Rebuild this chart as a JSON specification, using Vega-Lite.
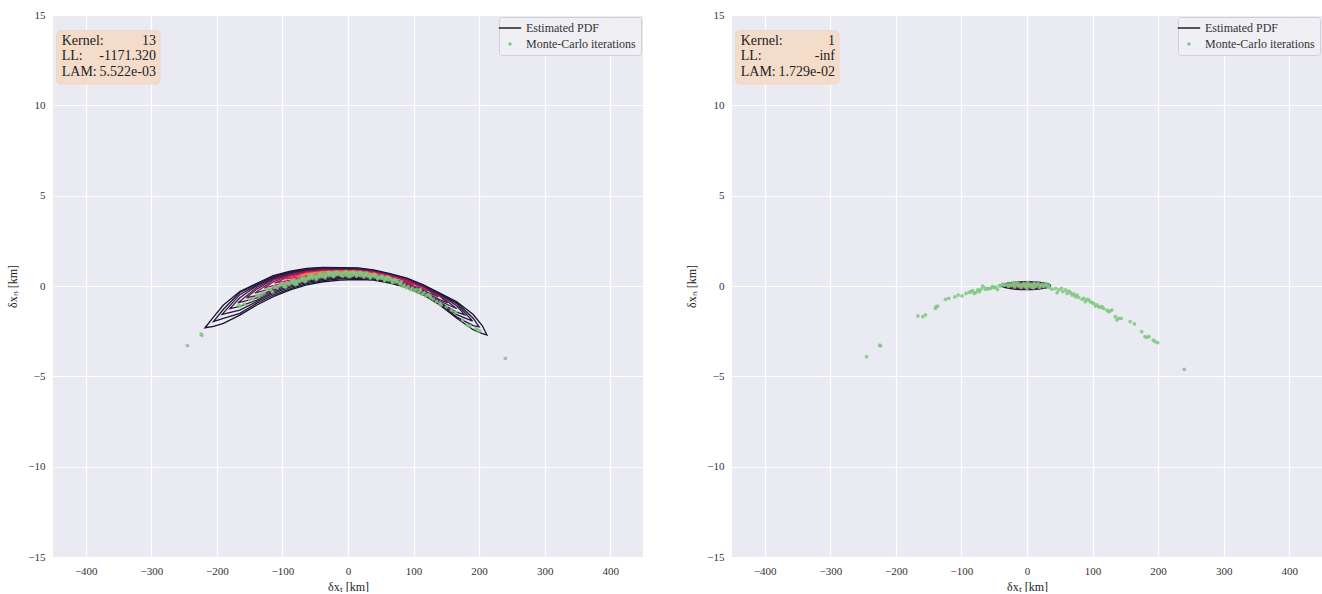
{
"$schema": "https://vega.github.io/schema/vega-lite/v6.json",
"padding": {"left": 6, "top": 9, "right": 0, "bottom": 0},
"background": "#ffffff",
"spacing": 42,
"datasets": {
"cl": [
{"l":0,"x":-218,"y":-2.31},{"l":0,"x":-205,"y":-1.71},{"l":0,"x":-190,"y":-1.05},{"l":0,"x":-165,"y":-0.31},{"l":0,"x":-139,"y":0.15},{"l":0,"x":-114,"y":0.57},{"l":0,"x":-88,"y":0.82},{"l":0,"x":-63,"y":0.98},{"l":0,"x":-38,"y":1.035},{"l":0,"x":-12,"y":1.02},{"l":0,"x":15,"y":1.0},{"l":0,"x":39,"y":0.89},{"l":0,"x":64,"y":0.68},{"l":0,"x":90,"y":0.43},{"l":0,"x":115,"y":0.06},{"l":0,"x":140,"y":-0.39},{"l":0,"x":166,"y":-0.87},{"l":0,"x":191,"y":-1.58},{"l":0,"x":205,"y":-2.2},{"l":0,"x":212,"y":-2.71},
{"l":0,"x":205,"y":-2.64},{"l":0,"x":191,"y":-2.42},{"l":0,"x":166,"y":-1.79},{"l":0,"x":140,"y":-1.05},{"l":0,"x":115,"y":-0.5},{"l":0,"x":90,"y":-0.09},{"l":0,"x":64,"y":0.16},{"l":0,"x":39,"y":0.33},{"l":0,"x":15,"y":0.36},{"l":0,"x":-12,"y":0.33},{"l":0,"x":-38,"y":0.235},{"l":0,"x":-63,"y":0.06},{"l":0,"x":-88,"y":-0.22},{"l":0,"x":-114,"y":-0.59},{"l":0,"x":-139,"y":-1.05},{"l":0,"x":-165,"y":-1.61},{"l":0,"x":-190,"y":-2.07},{"l":0,"x":-205,"y":-2.23},
{"l":1,"x":-205,"y":-1.96},{"l":1,"x":-190,"y":-1.29},{"l":1,"x":-165,"y":-0.36},{"l":1,"x":-139,"y":0.1},{"l":1,"x":-114,"y":0.52},{"l":1,"x":-88,"y":0.78},{"l":1,"x":-63,"y":0.94},{"l":1,"x":-38,"y":1.0},{"l":1,"x":-12,"y":0.99},{"l":1,"x":15,"y":0.975},{"l":1,"x":39,"y":0.87},{"l":1,"x":64,"y":0.66},{"l":1,"x":90,"y":0.41},{"l":1,"x":115,"y":0.04},{"l":1,"x":140,"y":-0.42},{"l":1,"x":166,"y":-0.91},{"l":1,"x":191,"y":-1.78},{"l":1,"x":200,"y":-2.26},
{"l":1,"x":191,"y":-2.19},{"l":1,"x":166,"y":-1.72},{"l":1,"x":140,"y":-1.0},{"l":1,"x":115,"y":-0.45},{"l":1,"x":90,"y":-0.05},{"l":1,"x":64,"y":0.2},{"l":1,"x":39,"y":0.38},{"l":1,"x":15,"y":0.41},{"l":1,"x":-12,"y":0.39},{"l":1,"x":-38,"y":0.3},{"l":1,"x":-63,"y":0.13},{"l":1,"x":-88,"y":-0.14},{"l":1,"x":-114,"y":-0.5},{"l":1,"x":-139,"y":-0.95},{"l":1,"x":-165,"y":-1.51},{"l":1,"x":-190,"y":-1.79},
{"l":2,"x":-192,"y":-1.57},{"l":2,"x":-165,"y":-0.48},{"l":2,"x":-139,"y":0.06},{"l":2,"x":-114,"y":0.48},{"l":2,"x":-88,"y":0.74},{"l":2,"x":-63,"y":0.91},{"l":2,"x":-38,"y":0.975},{"l":2,"x":-12,"y":0.97},{"l":2,"x":15,"y":0.95},{"l":2,"x":39,"y":0.85},{"l":2,"x":64,"y":0.64},{"l":2,"x":90,"y":0.39},{"l":2,"x":115,"y":0.02},{"l":2,"x":140,"y":-0.44},{"l":2,"x":166,"y":-0.99},{"l":2,"x":190,"y":-1.94},
{"l":2,"x":166,"y":-1.59},{"l":2,"x":140,"y":-0.95},{"l":2,"x":115,"y":-0.41},{"l":2,"x":90,"y":-0.01},{"l":2,"x":64,"y":0.24},{"l":2,"x":39,"y":0.42},{"l":2,"x":15,"y":0.46},{"l":2,"x":-12,"y":0.44},{"l":2,"x":-38,"y":0.36},{"l":2,"x":-63,"y":0.2},{"l":2,"x":-88,"y":-0.06},{"l":2,"x":-114,"y":-0.41},{"l":2,"x":-139,"y":-0.86},{"l":2,"x":-165,"y":-1.33},
{"l":3,"x":-180,"y":-1.25},{"l":3,"x":-165,"y":-0.65},{"l":3,"x":-139,"y":0.02},{"l":3,"x":-114,"y":0.45},{"l":3,"x":-88,"y":0.71},{"l":3,"x":-63,"y":0.88},{"l":3,"x":-38,"y":0.95},{"l":3,"x":-12,"y":0.95},{"l":3,"x":15,"y":0.93},{"l":3,"x":39,"y":0.83},{"l":3,"x":64,"y":0.62},{"l":3,"x":90,"y":0.37},{"l":3,"x":115,"y":0.0},{"l":3,"x":140,"y":-0.46},{"l":3,"x":166,"y":-1.11},{"l":3,"x":178,"y":-1.6},
{"l":3,"x":166,"y":-1.45},{"l":3,"x":140,"y":-0.9},{"l":3,"x":115,"y":-0.38},{"l":3,"x":90,"y":0.03},{"l":3,"x":64,"y":0.28},{"l":3,"x":39,"y":0.45},{"l":3,"x":15,"y":0.5},{"l":3,"x":-12,"y":0.48},{"l":3,"x":-38,"y":0.41},{"l":3,"x":-63,"y":0.27},{"l":3,"x":-88,"y":0.01},{"l":3,"x":-114,"y":-0.33},{"l":3,"x":-139,"y":-0.78},{"l":3,"x":-165,"y":-1.13},
{"l":4,"x":-168,"y":-0.94},{"l":4,"x":-139,"y":-0.07},{"l":4,"x":-114,"y":0.41},{"l":4,"x":-88,"y":0.68},{"l":4,"x":-63,"y":0.855},{"l":4,"x":-38,"y":0.93},{"l":4,"x":-12,"y":0.93},{"l":4,"x":15,"y":0.91},{"l":4,"x":39,"y":0.81},{"l":4,"x":64,"y":0.61},{"l":4,"x":90,"y":0.36},{"l":4,"x":115,"y":-0.02},{"l":4,"x":140,"y":-0.51},{"l":4,"x":166,"y":-1.26},
{"l":4,"x":140,"y":-0.83},{"l":4,"x":115,"y":-0.34},{"l":4,"x":90,"y":0.06},{"l":4,"x":64,"y":0.31},{"l":4,"x":39,"y":0.49},{"l":4,"x":15,"y":0.54},{"l":4,"x":-12,"y":0.53},{"l":4,"x":-38,"y":0.46},{"l":4,"x":-63,"y":0.32},{"l":4,"x":-88,"y":0.07},{"l":4,"x":-114,"y":-0.26},{"l":4,"x":-139,"y":-0.66},
{"l":5,"x":-155,"y":-0.65},{"l":5,"x":-139,"y":-0.17},{"l":5,"x":-114,"y":0.38},{"l":5,"x":-88,"y":0.65},{"l":5,"x":-63,"y":0.83},{"l":5,"x":-38,"y":0.905},{"l":5,"x":-12,"y":0.91},{"l":5,"x":15,"y":0.9},{"l":5,"x":39,"y":0.8},{"l":5,"x":64,"y":0.6},{"l":5,"x":90,"y":0.35},{"l":5,"x":115,"y":-0.03},{"l":5,"x":140,"y":-0.57},{"l":5,"x":152,"y":-0.93},
{"l":5,"x":140,"y":-0.75},{"l":5,"x":115,"y":-0.31},{"l":5,"x":90,"y":0.09},{"l":5,"x":64,"y":0.34},{"l":5,"x":39,"y":0.52},{"l":5,"x":15,"y":0.58},{"l":5,"x":-12,"y":0.56},{"l":5,"x":-38,"y":0.505},{"l":5,"x":-63,"y":0.37},{"l":5,"x":-88,"y":0.13},{"l":5,"x":-114,"y":-0.2},{"l":5,"x":-139,"y":-0.53},
{"l":6,"x":-142,"y":-0.39},{"l":6,"x":-114,"y":0.32},{"l":6,"x":-88,"y":0.62},{"l":6,"x":-63,"y":0.81},{"l":6,"x":-38,"y":0.88},{"l":6,"x":-12,"y":0.89},{"l":6,"x":15,"y":0.88},{"l":6,"x":39,"y":0.785},{"l":6,"x":64,"y":0.58},{"l":6,"x":90,"y":0.33},{"l":6,"x":115,"y":-0.06},{"l":6,"x":138,"y":-0.61},
{"l":6,"x":115,"y":-0.26},{"l":6,"x":90,"y":0.11},{"l":6,"x":64,"y":0.36},{"l":6,"x":39,"y":0.55},{"l":6,"x":15,"y":0.61},{"l":6,"x":-12,"y":0.6},{"l":6,"x":-38,"y":0.55},{"l":6,"x":-63,"y":0.42},{"l":6,"x":-88,"y":0.19},{"l":6,"x":-114,"y":-0.1},
{"l":7,"x":-128,"y":-0.12},{"l":7,"x":-114,"y":0.23},{"l":7,"x":-88,"y":0.6},{"l":7,"x":-63,"y":0.78},{"l":7,"x":-38,"y":0.86},{"l":7,"x":-12,"y":0.87},{"l":7,"x":15,"y":0.86},{"l":7,"x":39,"y":0.77},{"l":7,"x":64,"y":0.57},{"l":7,"x":90,"y":0.32},{"l":7,"x":122,"y":-0.29},
{"l":7,"x":90,"y":0.14},{"l":7,"x":64,"y":0.39},{"l":7,"x":39,"y":0.58},{"l":7,"x":15,"y":0.645},{"l":7,"x":-12,"y":0.64},{"l":7,"x":-38,"y":0.59},{"l":7,"x":-63,"y":0.47},{"l":7,"x":-88,"y":0.24},{"l":7,"x":-114,"y":0.02},
{"l":8,"x":-112,"y":0.16},{"l":8,"x":-88,"y":0.55},{"l":8,"x":-63,"y":0.76},{"l":8,"x":-38,"y":0.84},{"l":8,"x":-12,"y":0.855},{"l":8,"x":15,"y":0.846},{"l":8,"x":39,"y":0.756},{"l":8,"x":64,"y":0.555},{"l":8,"x":90,"y":0.274},{"l":8,"x":100,"y":0.08},
{"l":8,"x":90,"y":0.2},{"l":8,"x":64,"y":0.42},{"l":8,"x":39,"y":0.61},{"l":8,"x":15,"y":0.68},{"l":8,"x":-12,"y":0.675},{"l":8,"x":-38,"y":0.635},{"l":8,"x":-63,"y":0.52},{"l":8,"x":-88,"y":0.32},
{"l":9,"x":-95,"y":0.375},{"l":9,"x":-63,"y":0.735},{"l":9,"x":-38,"y":0.82},{"l":9,"x":-12,"y":0.836},{"l":9,"x":15,"y":0.83},{"l":9,"x":39,"y":0.74},{"l":9,"x":64,"y":0.52},{"l":9,"x":75,"y":0.385},
{"l":9,"x":64,"y":0.47},{"l":9,"x":39,"y":0.64},{"l":9,"x":15,"y":0.714},{"l":9,"x":-12,"y":0.71},{"l":9,"x":-38,"y":0.68},{"l":9,"x":-63,"y":0.57},
{"l":10,"x":-75,"y":0.564},{"l":10,"x":-63,"y":0.69},{"l":10,"x":-38,"y":0.8},{"l":10,"x":-12,"y":0.82},{"l":10,"x":15,"y":0.81},{"l":10,"x":45,"y":0.647},
{"l":10,"x":15,"y":0.75},{"l":10,"x":-12,"y":0.75},{"l":10,"x":-38,"y":0.72},{"l":10,"x":-63,"y":0.64}
],
"cr": [
{"l":0,"x":36,"y":0.02},{"l":0,"x":31,"y":0.13},{"l":0,"x":17.5,"y":0.21},{"l":0,"x":-1,"y":0.24},{"l":0,"x":-19.5,"y":0.21},{"l":0,"x":-33,"y":0.13},{"l":0,"x":-38,"y":0.02},{"l":0,"x":-33,"y":-0.09},{"l":0,"x":-19.5,"y":-0.17},{"l":0,"x":-1,"y":-0.2},{"l":0,"x":17.5,"y":-0.17},{"l":0,"x":31,"y":-0.09},
{"l":4,"x":33,"y":0.02},{"l":4,"x":28.6,"y":0.115},{"l":4,"x":16.5,"y":0.185},{"l":4,"x":0,"y":0.21},{"l":4,"x":-16.5,"y":0.185},{"l":4,"x":-28.6,"y":0.115},{"l":4,"x":-33,"y":0.02},{"l":4,"x":-28.6,"y":-0.075},{"l":4,"x":-16.5,"y":-0.145},{"l":4,"x":0,"y":-0.17},{"l":4,"x":16.5,"y":-0.145},{"l":4,"x":28.6,"y":-0.075},
{"l":6,"x":28,"y":0.02},{"l":6,"x":24.2,"y":0.1},{"l":6,"x":14,"y":0.16},{"l":6,"x":0,"y":0.18},{"l":6,"x":-14,"y":0.16},{"l":6,"x":-24.2,"y":0.1},{"l":6,"x":-28,"y":0.02},{"l":6,"x":-24.2,"y":-0.06},{"l":6,"x":-14,"y":-0.12},{"l":6,"x":0,"y":-0.14},{"l":6,"x":14,"y":-0.12},{"l":6,"x":24.2,"y":-0.06},
{"l":7,"x":23,"y":0.02},{"l":7,"x":19.9,"y":0.085},{"l":7,"x":11.5,"y":0.13},{"l":7,"x":0,"y":0.15},{"l":7,"x":-11.5,"y":0.13},{"l":7,"x":-19.9,"y":0.085},{"l":7,"x":-23,"y":0.02},{"l":7,"x":-19.9,"y":-0.045},{"l":7,"x":-11.5,"y":-0.09},{"l":7,"x":0,"y":-0.11},{"l":7,"x":11.5,"y":-0.09},{"l":7,"x":19.9,"y":-0.045},
{"l":8,"x":18,"y":0.02},{"l":8,"x":15.6,"y":0.07},{"l":8,"x":9,"y":0.107},{"l":8,"x":0,"y":0.12},{"l":8,"x":-9,"y":0.107},{"l":8,"x":-15.6,"y":0.07},{"l":8,"x":-18,"y":0.02},{"l":8,"x":-15.6,"y":-0.03},{"l":8,"x":-9,"y":-0.067},{"l":8,"x":0,"y":-0.08},{"l":8,"x":9,"y":-0.067},{"l":8,"x":15.6,"y":-0.03},
{"l":9,"x":12,"y":0.02},{"l":9,"x":10.4,"y":0.055},{"l":9,"x":6,"y":0.08},{"l":9,"x":0,"y":0.09},{"l":9,"x":-6,"y":0.08},{"l":9,"x":-10.4,"y":0.055},{"l":9,"x":-12,"y":0.02},{"l":9,"x":-10.4,"y":-0.015},{"l":9,"x":-6,"y":-0.04},{"l":9,"x":0,"y":-0.05},{"l":9,"x":6,"y":-0.04},{"l":9,"x":10.4,"y":-0.015},
{"l":10,"x":6,"y":0.02},{"l":10,"x":5.2,"y":0.04},{"l":10,"x":3,"y":0.055},{"l":10,"x":0,"y":0.06},{"l":10,"x":-3,"y":0.055},{"l":10,"x":-5.2,"y":0.04},{"l":10,"x":-6,"y":0.02},{"l":10,"x":-5.2,"y":0.0},{"l":10,"x":-3,"y":-0.015},{"l":10,"x":0,"y":-0.02},{"l":10,"x":3,"y":-0.015},{"l":10,"x":5.2,"y":0.0}
],
"pl": [
{"x":-245,"y":-3.3},{"x":-224,"y":-2.66},{"x":-223,"y":-2.73},{"x":-167,"y":-1.05},{"x":-164,"y":-1.11},{"x":-158,"y":-1.0},{"x":-150,"y":-0.75},{"x":-145,"y":-0.7},
{"x":-139,"y":-0.5},{"x":-136,"y":-0.55},{"x":-132,"y":-0.45},{"x":-128,"y":-0.38},{"x":-124,"y":-0.22},{"x":-121,"y":-0.13},{"x":-118,"y":-0.2},{"x":-115,"y":-0.32},
{"x":-112,"y":-0.05},{"x":-108,"y":-0.1},{"x":-105,"y":0.02},{"x":-101,"y":0.08},{"x":-100,"y":0.15},{"x":-98,"y":-0.02},{"x":-95,"y":0.12},{"x":-95,"y":-0.05},{"x":-92,"y":0.18},{"x":-90,"y":0.08},{"x":-87,"y":0.22},{"x":-85,"y":0.3},{"x":-84,"y":0.15},{"x":-82,"y":0.3},{"x":-80,"y":0.1},{"x":-79,"y":0.24},{"x":-78,"y":0.12},{"x":-76,"y":0.33},{"x":-74,"y":0.26},{"x":-71,"y":0.38},{"x":-70,"y":0.45},{"x":-69,"y":0.3},{"x":-66,"y":0.42},{"x":-65,"y":0.25},{"x":-64,"y":0.35},{"x":-61,"y":0.46},{"x":-60,"y":0.55},{"x":-59,"y":0.4},{"x":-56,"y":0.5},{"x":-55,"y":0.6},{"x":-54,"y":0.44},{"x":-51,"y":0.55},{"x":-49,"y":0.47},{"x":-48,"y":0.38},{"x":-46,"y":0.58},{"x":-44,"y":0.5},{"x":-42,"y":0.68},{"x":-41,"y":0.6},{"x":-39,"y":0.53},{"x":-36,"y":0.64},{"x":-35,"y":0.45},{"x":-34,"y":0.56},{"x":-31,"y":0.66},{"x":-30,"y":0.75},{"x":-29,"y":0.58},{"x":-28,"y":0.72},{"x":-26,"y":0.68},{"x":-24,"y":0.6},{"x":-22,"y":0.52},{"x":-21,"y":0.7},{"x":-19,"y":0.62},{"x":-18,"y":0.78},{"x":-16,"y":0.66},{"x":-14,"y":0.72},{"x":-11,"y":0.6},{"x":-9,"y":0.68},{"x":-8,"y":0.55},{"x":-6,"y":0.74},{"x":-4,"y":0.62},{"x":-3,"y":0.8},{"x":-1,"y":0.7},{"x":0,"y":0.55},{"x":2,"y":0.64},{"x":3,"y":0.52},{"x":4,"y":0.73},{"x":7,"y":0.6},{"x":8,"y":0.78},{"x":9,"y":0.68},{"x":12,"y":0.71},{"x":13,"y":0.55},{"x":14,"y":0.6},{"x":17,"y":0.67},{"x":18,"y":0.76},{"x":19,"y":0.58},{"x":20,"y":0.74},
{"x":22,"y":0.66},{"x":24,"y":0.5},{"x":25,"y":0.58},{"x":27,"y":0.64},{"x":28,"y":0.72},{"x":30,"y":0.55},{"x":33,"y":0.62},{"x":34,"y":0.45},{"x":35,"y":0.52},{"x":38,"y":0.58},{"x":40,"y":0.65},{"x":41,"y":0.5},{"x":43,"y":0.56},{"x":45,"y":0.4},{"x":46,"y":0.45},{"x":49,"y":0.52},{"x":51,"y":0.42},{"x":52,"y":0.55},{"x":54,"y":0.49},{"x":56,"y":0.3},{"x":57,"y":0.38},{"x":59,"y":0.45},{"x":60,"y":0.5},{"x":62,"y":0.33},{"x":63,"y":0.45},{"x":65,"y":0.4},{"x":67,"y":0.28},{"x":68,"y":0.2},{"x":70,"y":0.35},{"x":72,"y":0.35},{"x":73,"y":0.22},{"x":75,"y":0.29},{"x":78,"y":0.16},{"x":80,"y":0.1},{"x":81,"y":0.22},{"x":84,"y":-0.02},{"x":86,"y":0.05},{"x":89,"y":-0.1},{"x":92,"y":-0.04},{"x":95,"y":-0.2},{"x":98,"y":-0.12},{"x":101,"y":-0.26},{"x":104,"y":-0.2},{"x":107,"y":-0.36},{"x":110,"y":-0.28},{"x":110,"y":-0.18},{"x":113,"y":-0.46},{"x":116,"y":-0.38},{"x":119,"y":-0.55},{"x":122,"y":-0.48},{"x":125,"y":-0.55},{"x":126,"y":-0.65},{"x":130,"y":-0.72},{"x":135,"y":-0.85},{"x":140,"y":-0.95},{"x":142,"y":-1.05},{"x":150,"y":-1.15},{"x":158,"y":-1.33},{"x":164,"y":-1.46},{"x":175,"y":-1.88},{"x":182,"y":-2.16},{"x":186,"y":-2.21},{"x":195,"y":-2.36},{"x":198,"y":-2.43},{"x":201,"y":-2.49},{"x":240,"y":-4.0}
],
"pr": [
{"x":-244.8,"y":-3.91},{"x":-224.6,"y":-3.27},{"x":-223.5,"y":-3.32},{"x":-166.4,"y":-1.66},{"x":-158.9,"y":-1.7},{"x":-154.8,"y":-1.6},{"x":-138.6,"y":-1.14},{"x":-136.1,"y":-1.11},{"x":-139.6,"y":-1.24},{"x":-124.4,"y":-0.74},{"x":-119.4,"y":-0.68},{"x":-110,"y":-0.6},{"x":-105,"y":-0.5},{"x":-99.1,"y":-0.55},{"x":-93,"y":-0.41},{"x":-88,"y":-0.35},{"x":-85.4,"y":-0.31},{"x":-83,"y":-0.26},{"x":-80.4,"y":-0.41},{"x":-77.8,"y":-0.35},{"x":-75,"y":-0.22},{"x":-72.8,"y":-0.31},{"x":-70.3,"y":-0.19},{"x":-67.8,"y":0.0},{"x":-65,"y":-0.1},{"x":-62.7,"y":-0.19},{"x":-60.2,"y":-0.13},{"x":-58,"y":-0.15},{"x":-55.1,"y":-0.13},{"x":-52.7,"y":-0.04},{"x":-50,"y":-0.08},{"x":-47.5,"y":-0.07},{"x":-45.1,"y":-0.19},{"x":-42,"y":0.02},{"x":-39.9,"y":0.0},{"x":-37.5,"y":0.11},{"x":-34.9,"y":0.06},
{"x":-31,"y":0.08},{"x":-28,"y":-0.02},{"x":-26,"y":0.12},{"x":-24,"y":0.04},{"x":-21,"y":0.15},{"x":-20,"y":0.19},{"x":-19,"y":-0.05},{"x":-17,"y":0.07},{"x":-15,"y":0.18},{"x":-13,"y":0.0},{"x":-11,"y":0.1},{"x":-9,"y":-0.08},{"x":-7,"y":0.05},{"x":-5,"y":0.14},{"x":-3,"y":-0.03},{"x":-1,"y":0.09},{"x":0,"y":-0.12},{"x":1,"y":0.2},{"x":3,"y":0.02},{"x":5,"y":0.11},{"x":7,"y":-0.06},{"x":9,"y":0.06},{"x":10,"y":-0.1},{"x":11,"y":0.16},{"x":13,"y":-0.02},{"x":15,"y":0.08},{"x":17,"y":0.13},{"x":19,"y":-0.07},{"x":21,"y":0.04},{"x":23,"y":0.1},{"x":25,"y":-0.03},{"x":27,"y":0.06},{"x":29,"y":0.12},{"x":31,"y":-0.05},{"x":33,"y":0.03},{"x":35,"y":-0.1},
{"x":38.4,"y":-0.18},{"x":43.5,"y":-0.13},{"x":46,"y":-0.37},{"x":48.6,"y":-0.22},{"x":52.6,"y":-0.13},{"x":54.6,"y":-0.31},{"x":58.7,"y":-0.22},{"x":61.2,"y":-0.41},{"x":63.7,"y":-0.28},{"x":66.3,"y":-0.37},{"x":68.8,"y":-0.5},{"x":71.3,"y":-0.44},{"x":73.9,"y":-0.59},{"x":76.4,"y":-0.5},{"x":78.9,"y":-0.63},{"x":84,"y":-0.74},{"x":86.5,"y":-0.68},{"x":89,"y":-0.87},{"x":91.6,"y":-0.74},{"x":94.1,"y":-0.77},{"x":96.6,"y":-0.87},{"x":99.2,"y":-0.92},{"x":101.7,"y":-0.96},{"x":104.2,"y":-1.11},{"x":106.8,"y":-1.05},{"x":109.3,"y":-1.14},{"x":111.8,"y":-1.18},{"x":114.4,"y":-1.14},{"x":116.8,"y":-1.24},{"x":122,"y":-1.33},{"x":124.4,"y":-1.42},{"x":127,"y":-1.37},{"x":129.5,"y":-1.33},{"x":134.6,"y":-1.7},{"x":137.1,"y":-1.88},{"x":139.6,"y":-1.79},{"x":143.7,"y":-1.79},{"x":157.4,"y":-1.97},{"x":163.9,"y":-2.1},{"x":175,"y":-2.53},{"x":180.1,"y":-2.8},{"x":182.6,"y":-2.84},{"x":186.1,"y":-2.8},{"x":192.7,"y":-2.99},{"x":195.3,"y":-3.08},{"x":199.3,"y":-3.14},{"x":239.8,"y":-4.61}
]
},
"hconcat": [
{
"width": 590, "height": 542,
"layer": [
{"data": {"name": "cl"}, "mark": {"type": "line", "interpolate": "linear-closed", "strokeWidth": 1.3},
 "encoding": {
  "x": {"field": "x", "type": "quantitative", "scale": {"domain": [-450, 450], "nice": false, "zero": false}, "axis": {"values": [-400,-300,-200,-100,0,100,200,300,400], "titlePadding": 5}, "title": "δxₜ [km]"},
  "y": {"field": "y", "type": "quantitative", "scale": {"domain": [-15, 15], "nice": false, "zero": false}, "axis": {"values": [-15,-10,-5,0,5,10,15], "titlePadding": 8}, "title": "δxₙ [km]"},
  "stroke": {"field": "l", "type": "ordinal", "scale": {"domain": [0,1,2,3,4,5,6,7,8,9,10], "range": ["#191530","#201634","#2a183c","#361a44","#451c4b","#5a1e54","#721f5a","#921c5b","#b91657","#dd2c45","#f3784f"]}, "legend": null},
  "order": {"value": null}
 }},
{"data": {"values": [{}]}, "mark": {"type": "rect", "cornerRadius": 4, "fill": "#f4dccb", "stroke": "#eed5c3"},
 "encoding": {"x": {"datum": -444.4}, "x2": {"datum": -286.8}, "y": {"datum": 14.13}, "y2": {"datum": 11.18}}},
{"data": {"values": [{}]}, "mark": {"type": "text", "align": "left", "baseline": "alphabetic", "font": "Liberation Serif", "fontSize": 14, "lineHeight": 15.5, "color": "#222222", "text": ["Kernel:", "LL:", "LAM:"]},
 "encoding": {"x": {"datum": -436.7}, "y": {"datum": 13.34}}},
{"data": {"values": [{}]}, "mark": {"type": "text", "align": "right", "baseline": "alphabetic", "font": "Liberation Serif", "fontSize": 14, "lineHeight": 15.5, "color": "#222222", "text": ["13", "-1171.320", "5.522e-03"]},
 "encoding": {"x": {"datum": -292.9}, "y": {"datum": 13.34}}},
{"data": {"name": "pl"}, "mark": {"type": "circle", "size": 14, "opacity": 0.85},
 "encoding": {
  "x": {"field": "x", "type": "quantitative"},
  "y": {"field": "y", "type": "quantitative"},
  "color": {"datum": "Monte-Carlo iterations", "scale": {"domain": ["Estimated PDF", "Monte-Carlo iterations"], "range": ["#222222", "#7fc87f"]},
   "legend": {"title": null, "orient": "top-right", "offset": 2, "padding": 5, "fillColor": "#efeff4", "strokeColor": "#cfcfd6", "cornerRadius": 3, "labelFont": "Liberation Serif", "labelFontSize": 12, "labelColor": "#333333", "rowPadding": 4, "labelOffset": 10, "symbolOpacity": 1, "symbolStrokeWidth": 1.5,
    "symbolType": {"expr": "datum.value === 'Estimated PDF' ? 'stroke' : 'circle'"},
    "symbolSize": {"expr": "datum.value === 'Estimated PDF' ? 500 : 12"},
    "symbolStrokeColor": {"expr": "datum.value === 'Estimated PDF' ? '#222222' : 'transparent'"}}}
 }}
]
},
{
"width": 590, "height": 542,
"layer": [
{"data": {"name": "cr"}, "mark": {"type": "line", "interpolate": "cardinal-closed", "strokeWidth": 1.3},
 "encoding": {
  "x": {"field": "x", "type": "quantitative", "scale": {"domain": [-450, 450], "nice": false, "zero": false}, "axis": {"values": [-400,-300,-200,-100,0,100,200,300,400], "titlePadding": 5}, "title": "δxₜ [km]"},
  "y": {"field": "y", "type": "quantitative", "scale": {"domain": [-15, 15], "nice": false, "zero": false}, "axis": {"values": [-15,-10,-5,0,5,10,15], "titlePadding": 8}, "title": "δxₙ [km]"},
  "stroke": {"field": "l", "type": "ordinal", "scale": {"domain": [0,1,2,3,4,5,6,7,8,9,10], "range": ["#191530","#201634","#2a183c","#361a44","#451c4b","#5a1e54","#721f5a","#921c5b","#b91657","#dd2c45","#f3784f"]}, "legend": null},
  "order": {"value": null}
 }},
{"data": {"values": [{}]}, "mark": {"type": "rect", "cornerRadius": 4, "fill": "#f4dccb", "stroke": "#eed5c3"},
 "encoding": {"x": {"datum": -444.4}, "x2": {"datum": -286.8}, "y": {"datum": 14.13}, "y2": {"datum": 11.18}}},
{"data": {"values": [{}]}, "mark": {"type": "text", "align": "left", "baseline": "alphabetic", "font": "Liberation Serif", "fontSize": 14, "lineHeight": 15.5, "color": "#222222", "text": ["Kernel:", "LL:", "LAM:"]},
 "encoding": {"x": {"datum": -436.7}, "y": {"datum": 13.34}}},
{"data": {"values": [{}]}, "mark": {"type": "text", "align": "right", "baseline": "alphabetic", "font": "Liberation Serif", "fontSize": 14, "lineHeight": 15.5, "color": "#222222", "text": ["1", "-inf", "1.729e-02"]},
 "encoding": {"x": {"datum": -292.9}, "y": {"datum": 13.34}}},
{"data": {"name": "pr"}, "mark": {"type": "circle", "size": 14, "opacity": 0.85},
 "encoding": {
  "x": {"field": "x", "type": "quantitative"},
  "y": {"field": "y", "type": "quantitative"},
  "color": {"datum": "Monte-Carlo iterations", "scale": {"domain": ["Estimated PDF", "Monte-Carlo iterations"], "range": ["#222222", "#7fc87f"]},
   "legend": {"title": null, "orient": "top-right", "offset": 2, "padding": 5, "fillColor": "#efeff4", "strokeColor": "#cfcfd6", "cornerRadius": 3, "labelFont": "Liberation Serif", "labelFontSize": 12, "labelColor": "#333333", "rowPadding": 4, "labelOffset": 10, "symbolOpacity": 1, "symbolStrokeWidth": 1.5,
    "symbolType": {"expr": "datum.value === 'Estimated PDF' ? 'stroke' : 'circle'"},
    "symbolSize": {"expr": "datum.value === 'Estimated PDF' ? 500 : 12"},
    "symbolStrokeColor": {"expr": "datum.value === 'Estimated PDF' ? '#222222' : 'transparent'"}}}
 }}
]
}
],
"resolve": {"scale": {"color": "independent", "stroke": "independent"}},
"config": {
 "font": "Liberation Serif",
 "view": {"fill": "#EAEAF2", "stroke": null},
 "axis": {"domain": false, "ticks": false, "labelFont": "Liberation Serif", "labelFontSize": 11, "labelColor": "#333333", "labelPadding": 8, "titleFont": "Liberation Serif", "titleFontSize": 12, "titleFontWeight": "normal", "titleColor": "#222222", "gridColor": "#ffffff", "gridWidth": 1.2, "gridOpacity": 1}
}
}
